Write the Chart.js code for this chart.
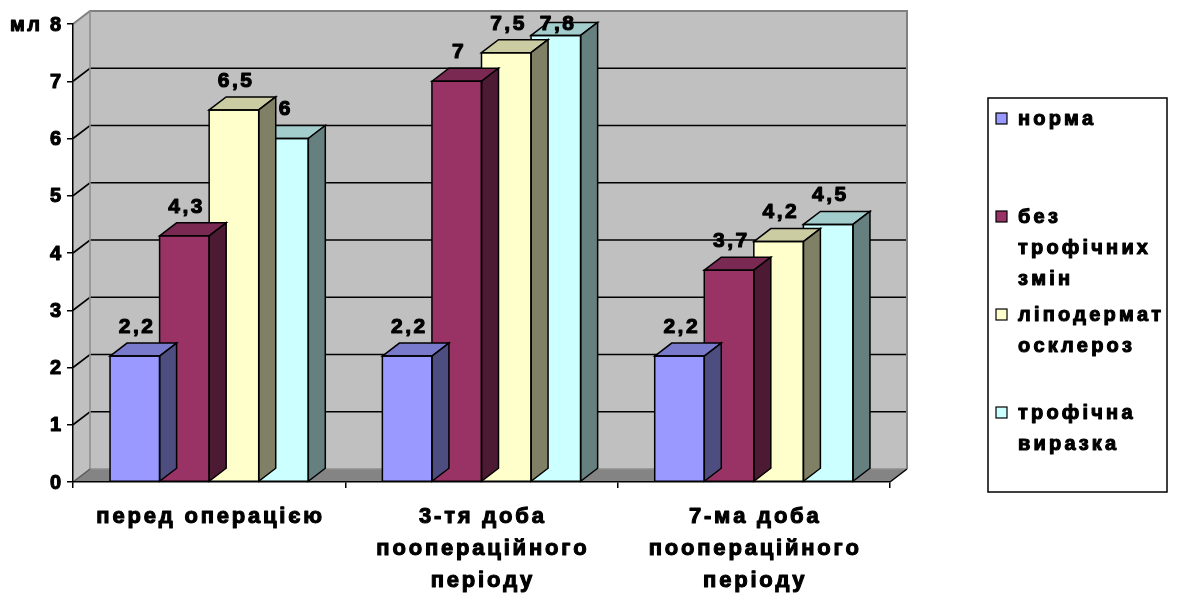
<!DOCTYPE html>
<html lang="uk">
<head>
<meta charset="utf-8">
<title>Об'єм, мл</title>
<script src="https://cdn.jsdelivr.net/npm/chart.js@4.4.1/dist/chart.umd.min.js"></script>
<style>
  html, body { margin: 0; padding: 0; background: #ffffff; }
  #wrap { width: 1180px; height: 594px; position: relative; }
  canvas { display: block; }
</style>
</head>
<body>
<div id="wrap"><canvas id="chart" width="1180" height="594"></canvas></div>
<script>
// ---- data ----
const categories = [
  ['перед операцією'],
  ['3-тя доба', 'поопераційного', 'періоду'],
  ['7-ма доба', 'поопераційного', 'періоду']
];
const seriesNames = ['норма', 'без трофічних змін', 'ліподерматосклероз', 'трофічна виразка'];
const legendLines = [
  ['норма'],
  ['без', 'трофічних', 'змін'],
  ['ліподермат', 'осклероз'],
  ['трофічна', 'виразка']
];
const normaValues      = [2.2, 2.2, 2.2];
const noTrophicValues  = [4.3, 7, 3.7];
const lipoValues       = [6.5, 7.5, 4.2];
const ulcerValues      = [6, 7.8, 4.5];
const yTickValues      = [0, 1, 2, 3, 4, 5, 6, 7, 8];
const yUnit            = 'мл';

// ---- styles ----
const seriesValues = [normaValues, noTrophicValues, lipoValues, ulcerValues];
const seriesColors = ['#9999FF', '#993366', '#FFFFCC', '#CCFFFF'];
const FONT = '"Liberation Sans", Arial, Helvetica, sans-serif';
const HEAVY = 1.1;                 // outline width that thickens the glyphs
const DX = 17, DY = -13;           // depth offset of the 3D box

function shade(hex, f) {
  const n = parseInt(hex.slice(1), 16);
  const r = Math.round(((n >> 16) & 255) * f);
  const g = Math.round(((n >> 8) & 255) * f);
  const b = Math.round((n & 255) * f);
  return 'rgb(' + r + ',' + g + ',' + b + ')';
}

function poly(ctx, pts, fill, stroke, lw) {
  ctx.beginPath();
  ctx.moveTo(pts[0][0], pts[0][1]);
  for (let i = 1; i < pts.length; i++) ctx.lineTo(pts[i][0], pts[i][1]);
  ctx.closePath();
  if (fill) { ctx.fillStyle = fill; ctx.fill(); }
  if (stroke) { ctx.strokeStyle = stroke; ctx.lineWidth = lw || 1; ctx.stroke(); }
}

function line(ctx, pts, color, lw) {
  ctx.beginPath();
  ctx.moveTo(pts[0][0], pts[0][1]);
  for (let i = 1; i < pts.length; i++) ctx.lineTo(pts[i][0], pts[i][1]);
  ctx.strokeStyle = color;
  ctx.lineWidth = lw;
  ctx.stroke();
}

// heavy text with letter tracking; align: 'left' | 'center' | 'right'
function spaced(ctx, text, x, y, align, track) {
  const chars = Array.from(text);
  const widths = chars.map(c => ctx.measureText(c).width);
  const total = widths.reduce((a, b) => a + b, 0) + track * (chars.length - 1);
  let cx = align === 'center' ? x - total / 2 : align === 'right' ? x - total : x;
  ctx.save();
  ctx.textAlign = 'left';
  ctx.fillStyle = '#000';
  ctx.strokeStyle = '#000';
  ctx.lineWidth = HEAVY;
  ctx.lineJoin = 'round';
  chars.forEach((c, i) => {
    ctx.fillText(c, cx, y);
    ctx.strokeText(c, cx, y);
    cx += widths[i] + track;
  });
  ctx.restore();
}

// Walls, floor and gridlines of the 3D box
const box3d = {
  id: 'box3d',
  beforeDraw(chart) {
    const ctx = chart.ctx;
    const { left, right, top, bottom } = chart.chartArea;
    const y = chart.scales.y;
    ctx.save();
    // back wall
    poly(ctx, [[left + DX, top + DY], [right + DX, top + DY], [right + DX, bottom + DY], [left + DX, bottom + DY]], '#C0C0C0');
    // left side wall
    poly(ctx, [[left, top], [left + DX, top + DY], [left + DX, bottom + DY], [left, bottom]], '#C0C0C0');
    // floor
    poly(ctx, [[left, bottom], [right, bottom], [right + DX, bottom + DY], [left + DX, bottom + DY]], '#848484');
    // gridlines across side wall and back wall
    yTickValues.forEach(v => {
      const py = y.getPixelForValue(v);
      if (v > 0 && v < y.max) {
        line(ctx, [[left, py], [left + DX, py + DY], [right + DX, py + DY]], '#000', 1.6);
      }
    });
    // wall edges
    line(ctx, [[left, top], [left + DX, top + DY], [right + DX, top + DY], [right + DX, bottom + DY]], '#808080', 2);
    line(ctx, [[left + DX, top + DY], [left + DX, bottom + DY], [right + DX, bottom + DY]], '#8f8f8f', 1.6);
    line(ctx, [[left, bottom], [left + DX, bottom + DY]], '#555', 1.2);
    line(ctx, [[right, bottom], [right + DX, bottom + DY]], '#000', 1.5);
    ctx.restore();
  },
  // top and side faces, drawn dataset by dataset so neighbours overlap correctly
  afterDatasetDraw(chart, args) {
    const ctx = chart.ctx;
    const base = seriesColors[args.index];
    ctx.save();
    args.meta.data.forEach(bar => {
      const p = bar.getProps(['x', 'y', 'base', 'width'], true);
      const l = p.x - p.width / 2, r = p.x + p.width / 2, t = p.y, b = p.base;
      poly(ctx, [[l, t], [l + DX, t + DY], [r + DX, t + DY], [r, t]], shade(base, 0.8), '#000', 1.5);
      poly(ctx, [[r, t], [r + DX, t + DY], [r + DX, b + DY], [r, b]], shade(base, 0.5), '#000', 1.5);
      poly(ctx, [[l, t], [r, t], [r, b], [l, b]], null, '#000', 1.5);
    });
    ctx.restore();
  },
  // value labels
  afterDatasetsDraw(chart) {
    const ctx = chart.ctx;
    ctx.save();
    ctx.font = 'bold 21px ' + FONT;
    ctx.textBaseline = 'middle';
    chart.data.datasets.forEach((ds, i) => {
      chart.getDatasetMeta(i).data.forEach((bar, j) => {
        const p = bar.getProps(['x', 'y'], true);
        const txt = String(ds.data[j]).replace('.', ',');
        spaced(ctx, txt, p.x + 1, Math.max(p.y - 29, 24), 'center', 2.5);
      });
    });
    ctx.restore();
  },
  // axis labels, unit caption and legend
  afterDraw(chart) {
    const ctx = chart.ctx;
    const { left, top, bottom } = chart.chartArea;
    const xs = chart.scales.x, ys = chart.scales.y;
    ctx.save();

    // y tick labels
    ctx.font = 'bold 20px ' + FONT;
    ctx.textBaseline = 'middle';
    ys.ticks.forEach(t => {
      spaced(ctx, String(t.value), left - 12, ys.getPixelForValue(t.value) + 1, 'right', 2.5);
    });
    spaced(ctx, yUnit, 10, top + 1, 'left', 2.5);

    // category labels
    ctx.font = 'bold 22px ' + FONT;
    ctx.textBaseline = 'alphabetic';
    chart.data.labels.forEach((lines, i) => {
      const cx = xs.getPixelForTick(i);
      lines.forEach((t, k) => spaced(ctx, t, cx, bottom + 41 + k * 32, 'center', 2.8));
    });

    // legend box
    const bx = 988, by = 98, bw = 179, bh = 394;
    ctx.fillStyle = '#fff';
    ctx.fillRect(bx, by, bw, bh);
    ctx.strokeStyle = '#000';
    ctx.lineWidth = 1.5;
    ctx.strokeRect(bx, by, bw, bh);
    ctx.font = 'bold 20px ' + FONT;
    ctx.textBaseline = 'alphabetic';
    const itemStep = 98, lineStep = 31;
    legendLines.forEach((lines, i) => {
      const base = by + 27 + i * itemStep;
      ctx.fillStyle = seriesColors[i];
      ctx.fillRect(996, base - 12, 11, 11);
      ctx.strokeStyle = '#000';
      ctx.lineWidth = 1.2;
      ctx.strokeRect(996, base - 12, 11, 11);
      lines.forEach((t, k) => spaced(ctx, t, 1018, base + k * lineStep, 'left', 3.2));
    });
    ctx.restore();
  }
};

new Chart(document.getElementById('chart'), {
  type: 'bar',
  data: {
    labels: categories,
    datasets: seriesNames.map((name, i) => ({
      label: name,
      data: seriesValues[i],
      backgroundColor: seriesColors[i],
      borderColor: '#000',
      borderWidth: 0,
      categoryPercentage: 0.728,
      barPercentage: 1
    }))
  },
  options: {
    responsive: false,
    animation: false,
    devicePixelRatio: 1,
    events: [],
    layout: { padding: { left: 0, top: 24, right: 290, bottom: 0 } },
    plugins: { legend: { display: false }, tooltip: { enabled: false } },
    scales: {
      x: {
        offset: true,
        grid: { offset: true, drawOnChartArea: false, drawTicks: true, tickLength: 6, color: '#000', lineWidth: 1.5 },
        border: { display: true, color: '#000', width: 1.5 },
        ticks: { display: false, autoSkip: false, maxRotation: 0 },
        afterFit(s) { s.height = 112; }
      },
      y: {
        min: 0,
        max: 8,
        grid: { drawOnChartArea: false, drawTicks: true, tickLength: 6, color: '#000', lineWidth: 1.5 },
        border: { display: true, color: '#000', width: 1.5 },
        ticks: { display: false },
        afterBuildTicks(s) { s.ticks = yTickValues.map(v => ({ value: v })); },
        afterFit(s) { s.width = 73; }
      }
    }
  },
  plugins: [box3d]
});
</script>
</body>
</html>
